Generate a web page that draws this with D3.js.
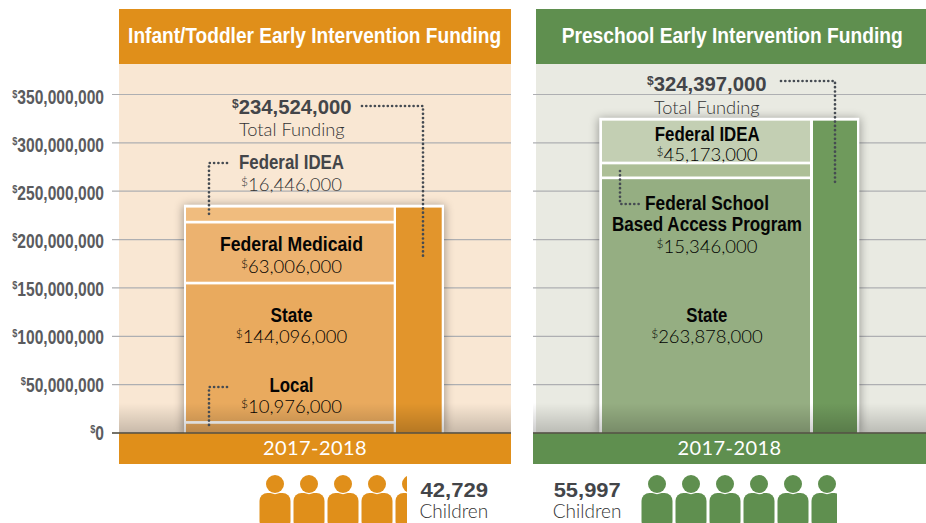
<!DOCTYPE html>
<html><head><meta charset="utf-8">
<script src="https://cdnjs.cloudflare.com/ajax/libs/d3/7.8.5/d3.min.js"></script>
<style>
html,body{margin:0;padding:0;background:#fff;overflow:hidden}
svg{display:block}
.narrow{font-family:"Liberation Sans",sans-serif;font-weight:700}
.light{font-family:Lato,"Open Sans",sans-serif;font-weight:300}
</style></head><body>
<svg id="c" width="926" height="523"></svg>
<script>
const tickValues=[0,50000000,100000000,150000000,200000000,250000000,300000000,350000000];
const yearLabel="2017-2018";
const infantTitle="Infant/Toddler Early Intervention Funding";
const infantNames=["Local","State","Federal Medicaid","Federal IDEA"];
const infantValues=[10976000,144096000,63006000,16446000];
const infantTotal=234524000;
const infantChildren=42729;
const preschoolTitle="Preschool Early Intervention Funding";
const preschoolNames=["State","Federal School","Based Access Program","Federal IDEA"];
const preschoolValues=[263878000,15346000,45173000];
const preschoolTotal=324397000;
const preschoolChildren=55997;

const svg=d3.select("#c");
const y=d3.scaleLinear().domain([0,350000000]).range([433,94.5]);
const labelOffset=d3.scaleLinear().domain([0,350000000]).range([6.3,9]);
const fmt=d3.format(",");
const defs=svg.append("defs");
const sh=defs.append("filter").attr("id","shadow").attr("x","-20%").attr("y","-20%").attr("width","140%").attr("height","140%");
sh.append("feGaussianBlur").attr("stdDeviation",5);
const gr=defs.append("linearGradient").attr("id","fade").attr("x1",0).attr("x2",0).attr("y1",0).attr("y2",1);
gr.append("stop").attr("offset",0).attr("stop-color","#000").attr("stop-opacity",0);
gr.append("stop").attr("offset",1).attr("stop-color","#000").attr("stop-opacity",0.2);

function money(sel,value,supSize,supDy){
  sel.append("tspan").attr("font-size",supSize).attr("dy",-supDy).text("$");
  sel.append("tspan").attr("dy",supDy).text(fmt(value));
}
function fit(t,w){return t.attr("textLength",w).attr("lengthAdjust","spacingAndGlyphs");}
function nameText(g,x,yy,name,w,fill){
  return fit(g.append("text").attr("class","narrow").attr("x",x).attr("y",yy).attr("text-anchor","middle")
    .attr("font-size",19.5).attr("fill",fill||"#050505").text(name),w);
}
function valueText(g,x,yy,value,fill){
  const t=g.append("text").attr("class","light").attr("x",x).attr("y",yy).attr("text-anchor","middle")
    .attr("font-size",18.5).attr("fill",fill||"#000");
  money(t,value,12,5);
}
function leader(g,pts){
  g.append("path").attr("d",d3.line()(pts)).attr("fill","none").attr("stroke","#454b52")
   .attr("stroke-width",2.7).attr("stroke-linecap","round").attr("stroke-dasharray","0 4.3");
}
function people(g,xs,clipId,clipX0,clipX1,fill){
  defs.append("clipPath").attr("id",clipId).append("rect").attr("x",clipX0).attr("y",470).attr("width",clipX1-clipX0).attr("height",53);
  const c=g.append("g").attr("clip-path",`url(#${clipId})`);
  const p=c.selectAll("g").data(xs).join("g").attr("transform",d=>`translate(${d},0)`);
  p.append("rect").attr("x",-15.5).attr("y",493).attr("width",31).attr("height",36).attr("rx",8).attr("fill",fill);
  p.append("circle").attr("cy",484).attr("r",10.2).attr("fill","#fff");
  p.append("circle").attr("cy",484).attr("r",9).attr("fill",fill);
}
function panel(o){
  const g=svg.append("g");
  g.append("rect").attr("x",o.x0).attr("y",64).attr("width",o.x1-o.x0).attr("height",369).attr("fill",o.bg);
  g.append("g").selectAll("line").data(tickValues).join("line")
    .attr("x1",o.gx0).attr("x2",o.x1).attr("y1",d=>y(d)).attr("y2",d=>y(d))
    .attr("stroke","#aeafb2").attr("stroke-width",1.2);
  const top=y(o.total);
  g.append("rect").attr("x",o.fx0-1).attr("y",top-1).attr("width",o.fx1-o.fx0+2).attr("height",433-top+2)
    .attr("fill","#000").attr("opacity",0.33).attr("filter","url(#shadow)");
  g.append("rect").attr("x",o.fx0).attr("y",top-1.5).attr("width",o.fx1-o.fx0).attr("height",433-top+1.5).attr("fill","#fff");
  let acc=0;
  const stacks=o.values.map(v=>{const s={a:acc,b:acc+v};acc+=v;return s;});
  g.selectAll(".seg").data(stacks).join("rect").attr("class","seg")
    .attr("x",o.sx0).attr("width",o.sx1-o.sx0)
    .attr("y",d=>y(d.b)+1.4).attr("height",d=>d.a===0?y(0)-y(d.b)-1.4:y(d.a)-y(d.b)-2.7)
    .attr("fill",(d,i)=>o.colors[i]);
  g.append("rect").attr("x",o.tx0).attr("width",o.tx1-o.tx0).attr("y",y(o.total)+1.4).attr("height",y(0)-y(o.total)-1.4).attr("fill",o.totalColor);
  g.append("rect").attr("x",o.bx0).attr("y",403).attr("width",o.x1-o.bx0).attr("height",30).attr("fill","url(#fade)");
  g.append("rect").attr("x",o.hx0).attr("y",9).attr("width",o.x1-o.hx0).attr("height",55).attr("fill",o.head);
  g.append("rect").attr("x",o.bx0).attr("y",433).attr("width",o.x1-o.bx0).attr("height",31).attr("fill",o.head);
  g.append("line").attr("x1",o.gx0).attr("x2",o.x1).attr("y1",y(0)).attr("y2",y(0)).attr("stroke","#555045").attr("stroke-width",1.5);
  fit(g.append("text").attr("class","narrow").attr("x",o.titleX).attr("y",42.7).attr("text-anchor","middle").attr("font-size",22)
    .attr("fill","#fff").text(o.title),o.titleW);
  g.append("text").attr("class","light").attr("x",(o.bx0+o.x1)/2).attr("y",455).attr("text-anchor","middle")
    .attr("font-size",20).attr("letter-spacing",0.4).attr("fill","#fff").attr("style","font-weight:400").text(yearLabel);
  return g;
}

const left=panel({x0:119,x1:511,hx0:119,bx0:119,gx0:112,fx0:184,fx1:444,sx0:186,sx1:393.7,tx0:396,tx1:441.7,
  total:infantTotal,values:infantValues,colors:["#e9aa5e","#e9aa5e","#ecb26f","#f0bc7e"],totalColor:"#e2952c",
  bg:"#f9e7d3",head:"#e08f1a",title:infantTitle,titleX:314.6,titleW:373});
const right=panel({x0:536,x1:926,hx0:536,bx0:533,gx0:533,fx0:599.3,fx1:859.3,sx0:602,sx1:810,tx0:813,tx1:857,
  total:preschoolTotal,values:preschoolValues,colors:["#95ae82","#adbf97","#c3cfb3"],totalColor:"#6f9a5c",
  bg:"#e9eae2",head:"#5f8f4f",title:preschoolTitle,titleX:732.2,titleW:341});

const axis=d3.axisLeft(y).tickValues(tickValues).tickSize(0).tickPadding(0);
const ax=svg.append("g").attr("transform","translate(104,0)").call(axis);
ax.select(".domain").remove();
ax.selectAll("text").attr("class","narrow").attr("font-size",19.5).attr("fill","#5a5b5e")
  .attr("dy",null).attr("x",0).attr("y",d=>labelOffset(d)).attr("transform","scale(.8,1)").text(null)
  .each(function(d){const t=d3.select(this);
    t.append("tspan").attr("font-size",11.5).attr("dy",-6.5).text("$");
    t.append("tspan").attr("dy",6.5).text(fmt(d));});

const tot=(sel,x,yy,val,lab)=>{
  const t=sel.append("text").attr("class","narrow").attr("x",x).attr("y",yy).attr("text-anchor","middle").attr("fill","#434549").attr("font-size",20.3);
  money(t,val,12,6);
  sel.append("text").attr("class","light").attr("x",x).attr("y",yy+22.3).attr("text-anchor","middle").attr("fill","#333").attr("font-size",18.3).text(lab);
};
tot(left,291.8,114,infantTotal,"Total Funding");
nameText(left,291.5,169,infantNames[3],105,"#434549");
valueText(left,291.5,190.7,infantValues[3],"#333");
nameText(left,291.5,250.7,infantNames[2],143);
valueText(left,291.5,273,infantValues[2]);
nameText(left,291.5,321.7,infantNames[1],42);
valueText(left,291.5,343,infantValues[1]);
nameText(left,291.5,392.3,infantNames[0],44);
valueText(left,291.5,413,infantValues[0]);
leader(left,[[362,106],[423,106],[423,259]]);
leader(left,[[227,163],[209,163],[209,217]]);
leader(left,[[227,387],[209,387],[209,429]]);

tot(right,706.8,91.3,preschoolTotal,"Total Funding");
nameText(right,707.2,140.7,preschoolNames[3],105);
valueText(right,707,160.7,preschoolValues[2]);
nameText(right,707,210,preschoolNames[1],124);
nameText(right,707,230.7,preschoolNames[2],190);
valueText(right,707,252.7,preschoolValues[1]);
nameText(right,706.8,321.7,preschoolNames[0],41);
valueText(right,707,343,preschoolValues[0]);
leader(right,[[781,81],[835,81],[835,182]]);
leader(right,[[620,171],[620,204],[639,204]]);

people(left,[275,309,343,377,411],"clipL",255,407,"#e08f1a");
people(right,[657,691,725,759,793,827],"clipR",638,837,"#5f8f4f");
const kids=(x,v,w)=>{
  fit(svg.append("text").attr("class","narrow").attr("x",x).attr("y",496.7).attr("fill","#434549").attr("font-size",21).text(fmt(v)),w);
  svg.append("text").attr("class","light").attr("x",x-1).attr("y",518).attr("fill","#333").attr("font-size",19).text("Children");
};
kids(420.5,infantChildren,67.6);
kids(553.7,preschoolChildren,67);
</script>
</body></html>
